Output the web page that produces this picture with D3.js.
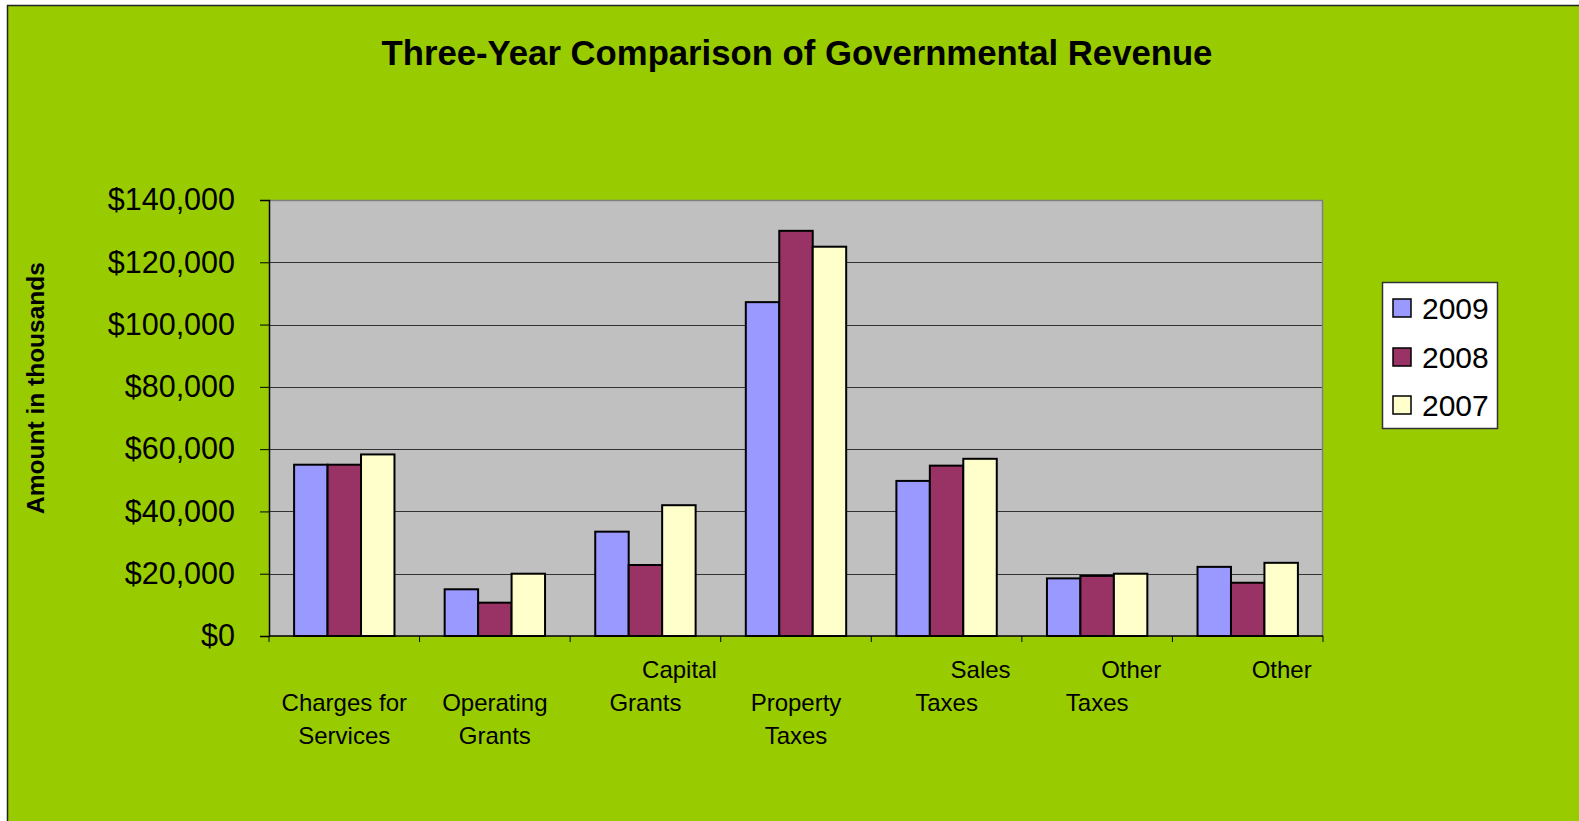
<!DOCTYPE html>
<html>
<head>
<meta charset="utf-8">
<script src="https://cdn.jsdelivr.net/npm/d3@7"></script>
<style>
  html, body { margin: 0; padding: 0; background: #ffffff; }
  svg { display: block; }
  text { font-family: "Liberation Sans", Arial, sans-serif; fill: #000; }
</style>
</head>
<body>
<svg id="chart" width="1579" height="821"></svg>
<script>
// Revenue categories (amounts in thousands of dollars)
const categories = [
  "Charges for Services",
  "Operating Grants",
  "Capital Grants",
  "Property Taxes",
  "Sales Taxes",
  "Other Taxes",
  "Other"
];
const seriesNames = ["2009", "2008", "2007"];
const values2009 = [55000, 15000, 33500, 107200, 49800, 18500, 22200];
const values2008 = [55000, 10700, 22800, 130100, 54700, 19300, 17100];
const values2007 = [58300, 20000, 42000, 125000, 56900, 20000, 23500];
const yTicks = [0, 20000, 40000, 60000, 80000, 100000, 120000, 140000];

const seriesValues = [values2009, values2008, values2007];
const colors = ["#9999FF", "#993366", "#FFFFCC"];

// How each category label wraps under the axis: lines, and whether the
// first word sits one row up and shifted right (as the spreadsheet drew it).
const labelLines = [
  ["Charges for", "Services"],
  ["Operating", "Grants"],
  ["Capital", "Grants"],
  ["Property", "Taxes"],
  ["Sales", "Taxes"],
  ["Other", "Taxes"],
  ["Other"]
];
const labelRaised = [false, false, true, false, true, true, true];

const svg = d3.select("#chart");
const W = 1579, H = 821;

// page background and chart area
svg.append("rect").attr("x", 0).attr("y", 0).attr("width", W).attr("height", H).attr("fill", "#ffffff");
svg.append("rect")
  .attr("x", 7.5).attr("y", 5.5).attr("width", W).attr("height", H)
  .attr("fill", "#99CC00").attr("stroke", "#222").attr("stroke-width", 1.5);

const plot = { left: 269, top: 200, right: 1323, bottom: 636 };

const x = d3.scaleBand().domain(categories).range([plot.left, plot.right]).paddingInner(0).paddingOuter(0);
const groupW = x.bandwidth() * (3 / 4.5);
const xs = d3.scaleBand().domain(seriesNames).range([-groupW / 2, groupW / 2]);
const y = d3.scaleLinear().domain([0, 140000]).range([plot.bottom, plot.top]);

// plot background
svg.append("rect")
  .attr("x", plot.left).attr("y", plot.top)
  .attr("width", plot.right - plot.left).attr("height", plot.bottom - plot.top)
  .attr("fill", "#C0C0C0");

// horizontal gridlines
svg.append("g").selectAll("line")
  .data(yTicks.filter(d => d > 0 && d < 140000))
  .join("line")
  .attr("x1", plot.left).attr("x2", plot.right)
  .attr("y1", d => Math.round(y(d)) + 0.5).attr("y2", d => Math.round(y(d)) + 0.5)
  .attr("stroke", "#333").attr("stroke-width", 1);

// top and right border of the plot area
svg.append("path")
  .attr("d", `M${plot.left},${plot.top + 0.5}H${plot.right - 0.5}V${plot.bottom}`)
  .attr("fill", "none").attr("stroke", "#808080").attr("stroke-width", 1.5);

// bars
const rows = categories.map((c, i) => ({ cat: c, vals: seriesNames.map((s, j) => ({ s, j, v: seriesValues[j][i] })) }));
svg.append("g").selectAll("g")
  .data(rows)
  .join("g")
  .attr("transform", d => `translate(${x(d.cat) + x.bandwidth() / 2},0)`)
  .selectAll("rect")
  .data(d => d.vals)
  .join("rect")
  .attr("x", d => xs(d.s))
  .attr("width", xs.bandwidth())
  .attr("y", d => y(d.v))
  .attr("height", d => y(0) - y(d.v))
  .attr("fill", d => colors[d.j])
  .attr("stroke", "#000").attr("stroke-width", 2);

// y axis
const yAxis = d3.axisLeft(y)
  .tickValues(yTicks)
  .tickFormat(d => "$" + d3.format(",")(d))
  .tickSize(9).tickPadding(25);
const gy = svg.append("g").attr("transform", `translate(${plot.left},0)`).call(yAxis);
gy.select(".domain").attr("stroke", "#000").attr("stroke-width", 1.5);
gy.selectAll(".tick line").attr("stroke", "#000");
gy.selectAll(".tick text")
  .attr("font-family", "Liberation Sans, Arial, sans-serif")
  .attr("font-size", 30.5).attr("fill", "#000");

// x axis: ticks at category boundaries
const xBounds = categories.map(c => x(c)).concat([plot.right]);
svg.append("line")
  .attr("x1", plot.left).attr("x2", plot.right)
  .attr("y1", plot.bottom).attr("y2", plot.bottom)
  .attr("stroke", "#000").attr("stroke-width", 1.5);
svg.append("g").selectAll("line")
  .data(xBounds)
  .join("line")
  .attr("x1", d => d).attr("x2", d => d)
  .attr("y1", plot.bottom).attr("y2", plot.bottom + 6)
  .attr("stroke", "#000").attr("stroke-width", 1);

// category labels
const lineBase = [678, 711, 744];
const labelG = svg.append("g").attr("font-size", 24);
categories.forEach((c, i) => {
  const cx = x(c) + x.bandwidth() / 2;
  const lines = labelLines[i];
  lines.forEach((t, k) => {
    const row = labelRaised[i] ? k : k + 1;
    const dx = (labelRaised[i] && k === 0) ? 34 : 0;
    labelG.append("text")
      .attr("x", cx + dx).attr("y", lineBase[row])
      .attr("text-anchor", "middle")
      .text(t);
  });
});

// title
svg.append("text")
  .attr("x", 797).attr("y", 65)
  .attr("text-anchor", "middle")
  .attr("font-size", 34.7).attr("font-weight", "bold")
  .text("Three-Year Comparison of Governmental Revenue");

// y-axis title
svg.append("text")
  .attr("transform", "translate(44,388) rotate(-90)")
  .attr("text-anchor", "middle")
  .attr("font-size", 24.5).attr("font-weight", "bold")
  .text("Amount in thousands");

// legend
const legend = svg.append("g");
legend.append("rect")
  .attr("x", 1382.5).attr("y", 282.5).attr("width", 115).attr("height", 146)
  .attr("fill", "#ffffff").attr("stroke", "#333").attr("stroke-width", 1.5);
const legendY = [308, 357, 405];
seriesNames.forEach((s, j) => {
  legend.append("rect")
    .attr("x", 1393).attr("y", legendY[j] - 9).attr("width", 18).attr("height", 18)
    .attr("fill", colors[j]).attr("stroke", "#000").attr("stroke-width", 1.5);
  legend.append("text")
    .attr("x", 1422).attr("y", legendY[j] + 11)
    .attr("font-size", 30)
    .text(s);
});
</script>
</body>
</html>
